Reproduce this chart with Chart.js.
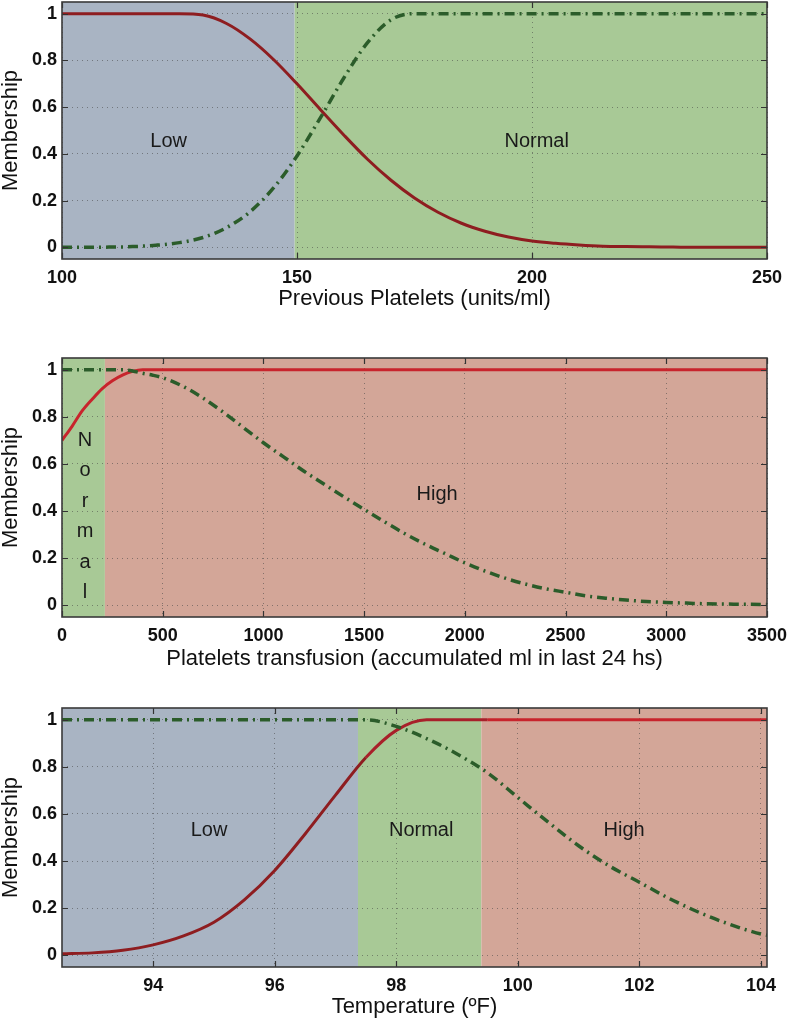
<!DOCTYPE html>
<html>
<head>
<meta charset="utf-8">
<script src="https://cdn.jsdelivr.net/npm/chart.js@4.4.1/dist/chart.umd.min.js"></script>
<style>
  body { margin: 0; background: #fff; width: 788px; height: 1020px; position: relative; overflow: hidden; }
  .panel { position: absolute; left: 0; width: 788px; }
</style>
</head>
<body>
<div class="panel" style="top:0;height:310px"><canvas id="plaquetasChart"></canvas></div>
<div class="panel" style="top:320px;height:350px"><canvas id="transfusionChart"></canvas></div>
<div class="panel" style="top:680px;height:340px"><canvas id="temperaturaChart"></canvas></div>
<script>
// --- Datos: plaquetas previas ---
const plaquetasX = [100, 105, 110, 115, 120, 125, 130, 135, 140, 145, 150, 155, 160, 165, 170, 175,
  180, 185, 190, 195, 200, 205, 210, 215, 220, 225, 230, 235, 240, 245, 250];
const plaquetasRoja = [1, 1, 1, 1, 1, 1, 0.994, 0.958, 0.892, 0.804, 0.70, 0.589, 0.480, 0.377, 0.287, 0.211,
  0.150, 0.103, 0.069, 0.044, 0.027, 0.017, 0.010, 0.005, 0.003, 0.002, 0.001, 0, 0, 0, 0];
const plaquetasVerde = [0, 0, 0.001, 0.003, 0.009, 0.020, 0.042, 0.084, 0.152, 0.254, 0.391, 0.555, 0.726, 0.876, 0.974, 1,
  1, 1, 1, 1, 1, 1, 1, 1, 1, 1, 1, 1, 1, 1, 1];
const plaquetasTicks = [100, 150, 200, 250];
const plaquetasRegiones = ['Low', 'Normal'];
const plaquetasDesde = [100, 149.5];
const plaquetasHasta = [149.5, 250];
const plaquetasEtiquetas = ['Low', 'Normal'];
const plaquetasEtiqX = [122.7, 201];
const plaquetasEtiqY = [0.455, 0.455];

// --- Datos: transfusion ---
const transfX = [0, 50, 100, 150, 200, 250, 300, 350, 400, 450, 500, 600, 700, 800, 900, 1000, 1100, 1200,
  1300, 1400, 1500, 1600, 1700, 1800, 1900, 2000, 2100, 2200, 2300, 2400, 2500, 2600, 2700, 2800, 2900,
  3000, 3100, 3200, 3300, 3400, 3500];
const transfRoja = [0.70, 0.76, 0.825, 0.875, 0.92, 0.953, 0.977, 0.993, 1, 1, 1, 1, 1, 1, 1, 1, 1, 1,
  1, 1, 1, 1, 1, 1, 1, 1, 1, 1, 1, 1, 1, 1, 1, 1, 1, 1, 1, 1, 1, 1, 1];
const transfVerde = [1, 1, 1, 1, 1, 1, 1, 0.995, 0.985, 0.977, 0.966, 0.93, 0.88, 0.82, 0.755, 0.69, 0.63, 0.57,
  0.515, 0.46, 0.407, 0.355, 0.305, 0.26, 0.22, 0.18, 0.145, 0.115, 0.09, 0.07, 0.055, 0.04, 0.03, 0.022, 0.016,
  0.012, 0.009, 0.006, 0.005, 0.004, 0.003];
const transfTicks = [0, 500, 1000, 1500, 2000, 2500, 3000, 3500];
const transfRegiones = ['Normal', 'High'];
const transfDesde = [0, 213];
const transfHasta = [213, 3500];
const transfEtiquetas = ['High', 'Normal'];
const transfEtiqX = [1862, 114];
const transfEtiqY = [0.47, 0.70];
const transfVertical = [false, true];

// --- Datos: temperatura ---
const tempX = [92.5, 93, 93.5, 94, 94.5, 95, 95.5, 96, 96.5, 97, 97.5, 98, 98.5, 99, 99.5, 100,
  100.5, 101, 101.5, 102, 102.5, 103, 103.5, 104, 104.1];
const tempRoja = [0.006, 0.01, 0.021, 0.044, 0.082, 0.14, 0.235, 0.36, 0.515, 0.68, 0.84, 0.955, 1, 1, 1, 1,
  1, 1, 1, 1, 1, 1, 1, 1, 1];
const tempVerde = [1, 1, 1, 1, 1, 1, 1, 1, 1, 1, 1, 0.972, 0.92, 0.855, 0.775, 0.67,
  0.565, 0.465, 0.38, 0.31, 0.24, 0.18, 0.13, 0.09, 0.085];
const tempTicks = [94, 96, 98, 100, 102, 104];
const tempRegiones = ['Low', 'Normal', 'High'];
const tempDesde = [92.5, 97.37, 99.4];
const tempHasta = [97.37, 99.4, 104.1];
const tempEtiquetas = ['Low', 'Normal', 'High'];
const tempEtiqX = [94.92, 98.41, 101.75];
const tempEtiqY = [0.53, 0.53, 0.53];

const membresiaTicks = [0, 0.2, 0.4, 0.6, 0.8, 1];

// Colores
const fondo = { Low: '#A9B4C3', Normal: '#A8C996', High: '#D3A698' };
const verde = '#2B5C2A';
const rojoOscuro = '#8E1D20';
const rojoMedio = '#A8202A';
const rojoClaro = '#C8242C';
const texto = '#111';

Chart.defaults.font.family = '"Liberation Sans", Arial, Helvetica, sans-serif';
Chart.defaults.color = texto;

const juntar = (xs, ys) => xs.map((x, i) => ({ x: x, y: ys[i] }));

function regionDe(x, regiones, desde, hasta) {
  for (let i = 0; i < regiones.length; i++) {
    if (x >= desde[i] && x <= hasta[i]) return regiones[i];
  }
  return regiones[regiones.length - 1];
}

// Plugin: fondos de regiones, etiquetas, marcas internas y marco
function fuzzyPlugin(p) {
  return {
    id: 'fuzzy',
    beforeDraw(chart) {
      const { ctx, chartArea: a, scales: { x } } = chart;
      ctx.save();
      p.regiones.forEach((r, i) => {
        const x0 = x.getPixelForValue(p.desde[i]);
        const x1 = x.getPixelForValue(p.hasta[i]);
        ctx.fillStyle = fondo[r];
        ctx.fillRect(x0, a.top, x1 - x0, a.bottom - a.top);
      });
      ctx.restore();
    },
    beforeDatasetsDraw(chart) {
      const { ctx, scales: { x, y } } = chart;
      ctx.save();
      ctx.fillStyle = '#1a1a1a';
      ctx.font = '20px "Liberation Sans", Arial, sans-serif';
      ctx.textAlign = 'center';
      ctx.textBaseline = 'middle';
      p.etiquetas.forEach((t, i) => {
        const px = x.getPixelForValue(p.etiqX[i]);
        const py = y.getPixelForValue(p.etiqY[i]);
        if (p.vertical && p.vertical[i]) {
          [...t].forEach((c, j) => ctx.fillText(c, px, py + j * 30.5));
        } else {
          ctx.fillText(t, px, py);
        }
      });
      ctx.restore();
    },
    afterDatasetsDraw(chart) {
      const { ctx, chartArea: a, scales: { x, y } } = chart;
      ctx.save();
      ctx.strokeStyle = '#333';
      ctx.lineWidth = 1.2;
      ctx.beginPath();
      x.ticks.forEach(t => {
        const px = Math.round(x.getPixelForValue(t.value)) + 0.5;
        ctx.moveTo(px, a.top); ctx.lineTo(px, a.top + 6);
        ctx.moveTo(px, a.bottom); ctx.lineTo(px, a.bottom - 6);
      });
      y.ticks.forEach(t => {
        const py = Math.round(y.getPixelForValue(t.value)) + 0.5;
        ctx.moveTo(a.left, py); ctx.lineTo(a.left + 6, py);
        ctx.moveTo(a.right, py); ctx.lineTo(a.right - 6, py);
      });
      ctx.stroke();
      ctx.lineWidth = 1.6;
      ctx.strokeStyle = '#3a3a3a';
      ctx.strokeRect(a.left, a.top, a.right - a.left, a.bottom - a.top);
      ctx.restore();
    }
  };
}

function grafico(id, p) {
  new Chart(document.getElementById(id), {
    type: 'line',
    data: {
      datasets: [
        {
          data: juntar(p.xs, p.verde),
          borderColor: verde,
          borderWidth: 3.5,
          borderDash: [10, 5, 2, 5],
          pointRadius: 0,
          cubicInterpolationMode: 'monotone'
        },
        {
          data: juntar(p.xs, p.roja),
          borderColor: p.rojo[p.regiones[0]],
          borderWidth: 3,
          pointRadius: 0,
          cubicInterpolationMode: 'monotone',
          segment: {
            borderColor: c => p.rojo[regionDe((c.p0.parsed.x + c.p1.parsed.x) / 2, p.regiones, p.desde, p.hasta)]
          }
        }
      ]
    },
    options: {
      responsive: true,
      maintainAspectRatio: false,
      animation: false,
      layout: { padding: { top: p.arriba, right: 21, left: 0, bottom: 0 } },
      plugins: { legend: { display: false }, tooltip: { enabled: false } },
      scales: {
        x: {
          type: 'linear',
          min: p.min,
          max: p.max,
          afterBuildTicks: s => { s.ticks = p.ticks.map(v => ({ value: v })); },
          afterFit: s => { s.height = p.altoX; s.paddingLeft = 0; s.paddingRight = 0; },
          ticks: {
            autoSkip: false, maxRotation: 0, padding: 8,
            color: texto, font: { size: 18, weight: 'bold' },
            callback: v => String(v)
          },
          grid: { color: 'rgba(70,70,70,0.55)', lineWidth: 1, drawTicks: false },
          border: { display: false, dash: [1, 4] },
          title: {
            display: true, text: p.titulo, color: texto,
            font: { size: 22, lineHeight: 1 }, padding: { top: 0, bottom: p.tituloPad }
          }
        },
        y: {
          min: -0.05,
          max: 1.05,
          afterBuildTicks: s => { s.ticks = membresiaTicks.map(v => ({ value: v })); },
          afterFit: s => { s.width = 62; s.paddingTop = 0; s.paddingBottom = 0; },
          ticks: {
            padding: 5, color: texto, font: { size: 18, weight: 'bold' },
            callback: v => String(v)
          },
          grid: { color: 'rgba(70,70,70,0.55)', lineWidth: 1, drawTicks: false },
          border: { display: false, dash: [1, 4] },
          title: {
            display: true, text: 'Membership', color: texto,
            font: { size: 22, lineHeight: 1 }, padding: { top: 0, bottom: 0 }
          }
        }
      }
    },
    plugins: [fuzzyPlugin(p)]
  });
}

grafico('plaquetasChart', {
  xs: plaquetasX, roja: plaquetasRoja, verde: plaquetasVerde, ticks: plaquetasTicks,
  regiones: plaquetasRegiones, desde: plaquetasDesde, hasta: plaquetasHasta,
  etiquetas: plaquetasEtiquetas, etiqX: plaquetasEtiqX, etiqY: plaquetasEtiqY,
  rojo: { Low: rojoOscuro, Normal: rojoOscuro },
  min: 100, max: 250, titulo: 'Previous Platelets (units/ml)',
  arriba: 2, altoX: 51, tituloPad: 0
});

grafico('transfusionChart', {
  xs: transfX, roja: transfRoja, verde: transfVerde, ticks: transfTicks,
  regiones: transfRegiones, desde: transfDesde, hasta: transfHasta,
  etiquetas: transfEtiquetas, etiqX: transfEtiqX, etiqY: transfEtiqY, vertical: transfVertical,
  rojo: { Normal: rojoClaro, High: rojoClaro },
  min: 0, max: 3500, titulo: 'Platelets transfusion (accumulated ml in last 24 hs)',
  arriba: 38, altoX: 53, tituloPad: 0
});

grafico('temperaturaChart', {
  xs: tempX, roja: tempRoja, verde: tempVerde, ticks: tempTicks,
  regiones: tempRegiones, desde: tempDesde, hasta: tempHasta,
  etiquetas: tempEtiquetas, etiqX: tempEtiqX, etiqY: tempEtiqY,
  rojo: { Low: rojoOscuro, Normal: rojoMedio, High: rojoClaro },
  min: 92.5, max: 104.1, titulo: 'Temperature (ºF)',
  arriba: 28, altoX: 53, tituloPad: 2
});
</script>
</body>
</html>
